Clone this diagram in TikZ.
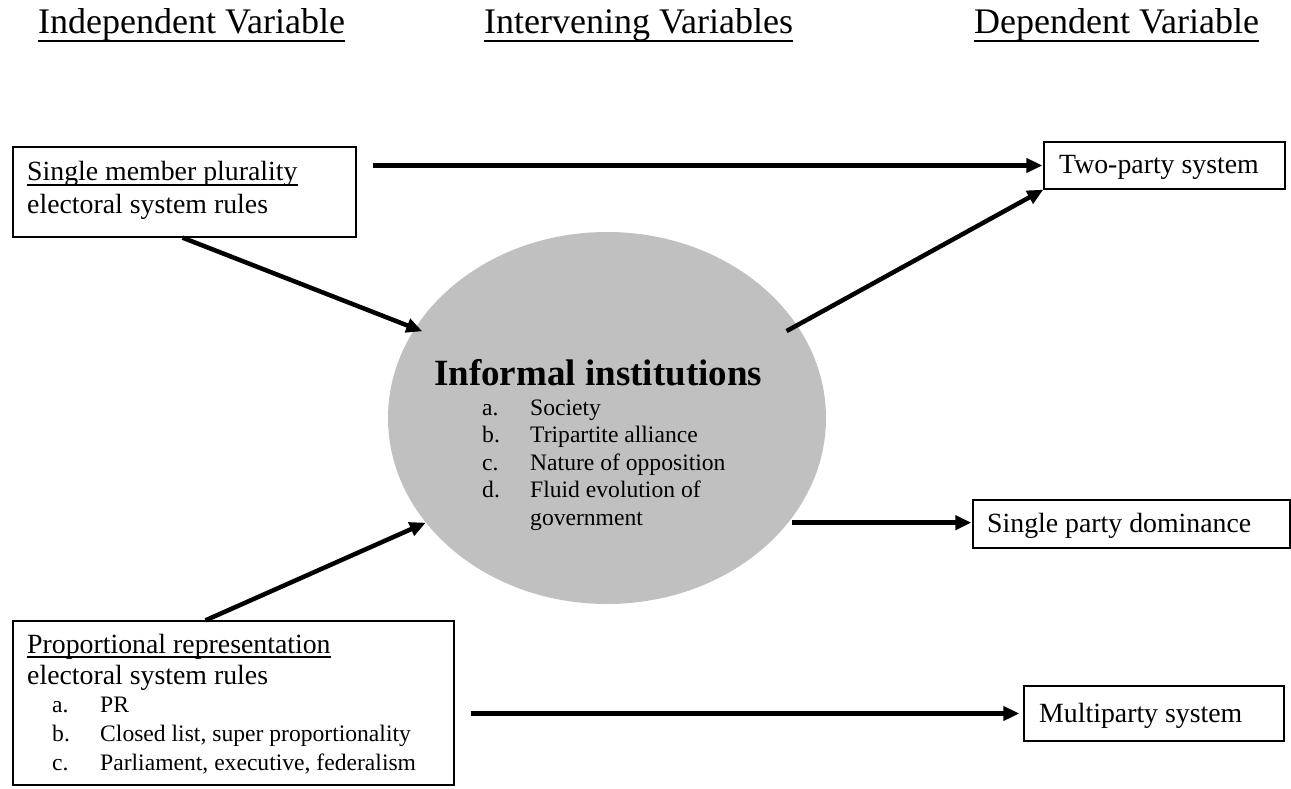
\documentclass[tikz,border=0pt]{standalone}
\usepackage{fontspec}
\setmainfont{Liberation Serif}
\usetikzlibrary{arrows.meta,shapes.geometric}
\tikzset{
  box/.style={draw=black, line width=1.3pt, rectangle, inner sep=0pt},
  conn/.style={line width=4.5pt, -{Triangle[length=16pt,width=14pt]}},
  head/.style={anchor=base west, inner sep=0pt, font=\fontsize{36}{40}\selectfont},
  body/.style={anchor=base west, inner sep=0pt, font=\fontsize{27.8}{32}\selectfont},
  item/.style={anchor=base west, inner sep=0pt, font=\fontsize{23.6}{28}\selectfont},
  uline/.style={line width=1.4pt},
  hline/.style={line width=2pt}
}
\begin{document}
\begin{tikzpicture}[x=1pt,y=-1pt]
\useasboundingbox (0,0) rectangle (1291,789);

% headings
\node[head] (h1) at (38,34) {Independent Variable};
\node[head] (h2) at (484,34) {Intervening Variables};
\node[head] (h3) at (974,34) {Dependent Variable};
\foreach \h in {h1,h2,h3}{
  \draw[hline] ([yshift=-7pt]\h.base west) -- ([yshift=-7pt]\h.base east);
}

% ellipse
\node[ellipse, fill={rgb,255:red,192;green,192;blue,192}, draw=none,
      minimum width=438pt, minimum height=372pt, inner sep=0pt] (ell) at (607,418) {};
\node[anchor=base west, inner sep=0pt, font=\fontsize{37}{40}\selectfont\bfseries] (it) at (434,385) {Informal institutions};
\node[item] (ea) at (482,415) {a.};
\node[item] (eat) at (530,415) {Society};
\node[item] (eb) at (482,442) {b.};
\node[item] (ebt) at (530,442) {Tripartite alliance};
\node[item] (ec) at (482,470) {c.};
\node[item] (ect) at (530,470) {Nature of opposition};
\node[item] (ed) at (482,497) {d.};
\node[item] (edt) at (530,497) {Fluid evolution of};
\node[item] (edt2) at (530,525) {government};

% box 1
\node[box, minimum width=343pt, minimum height=90pt] (smp) at (184.5,192) {};
\node[body] (smp1) at (27,181) {Single member plurality};
\draw[uline] ([yshift=-4pt]smp1.base west) -- ([yshift=-4pt]smp1.base east);
\node[body] (smp2) at (27,213) {electoral system rules};

% PR box
\node[box, minimum width=441pt, minimum height=164pt] (pr) at (233.5,703) {};
\node[body] (pr1) at (27,653) {Proportional representation};
\draw[uline] ([yshift=-4pt]pr1.base west) -- ([yshift=-4pt]pr1.base east);
\node[body] (pr2) at (27,684) {electoral system rules};
\node[item] (pa) at (52,712) {a.};
\node[item] (pat) at (100,712) {PR};
\node[item] (pb) at (52,741) {b.};
\node[item] (pbt) at (100,741) {Closed list, super proportionality};
\node[item] (pc) at (52,770) {c.};
\node[item] (pct) at (100,770) {Parliament, executive, federalism};

% outcome boxes
\node[box, minimum width=241pt, minimum height=47pt] (tp) at (1164.5,165.5) {};
\node[body] (tpt) at (1059,174) {Two-party system};
\node[box, minimum width=317pt, minimum height=48pt] (sp) at (1131.5,524) {};
\node[body] (spt) at (987,532) {Single party dominance};
\node[box, minimum width=260pt, minimum height=55pt] (mp) at (1154,713.5) {};
\node[body] (mpt) at (1039,722) {Multiparty system};

% connectors
\draw[conn] ([xshift=16pt]smp.east |- tp.west) -- ([xshift=-1pt]tp.west);
\draw[conn, shorten >=-8pt] ([xshift=-2pt]smp.south) -- (ell.155);
\draw[conn] ([xshift=-28pt]pr.north) -- (ell.210);
\draw[conn, shorten <=-12pt] (ell.26) -- (tp.south west);
\draw[conn] ([xshift=4pt]ell.-30) -- ([xshift=-1pt]ell.-30 -| sp.west);
\draw[conn] ([xshift=16pt]pr.east |- mp.west) -- ([xshift=-4pt]mp.west);
\end{tikzpicture}
\end{document}
